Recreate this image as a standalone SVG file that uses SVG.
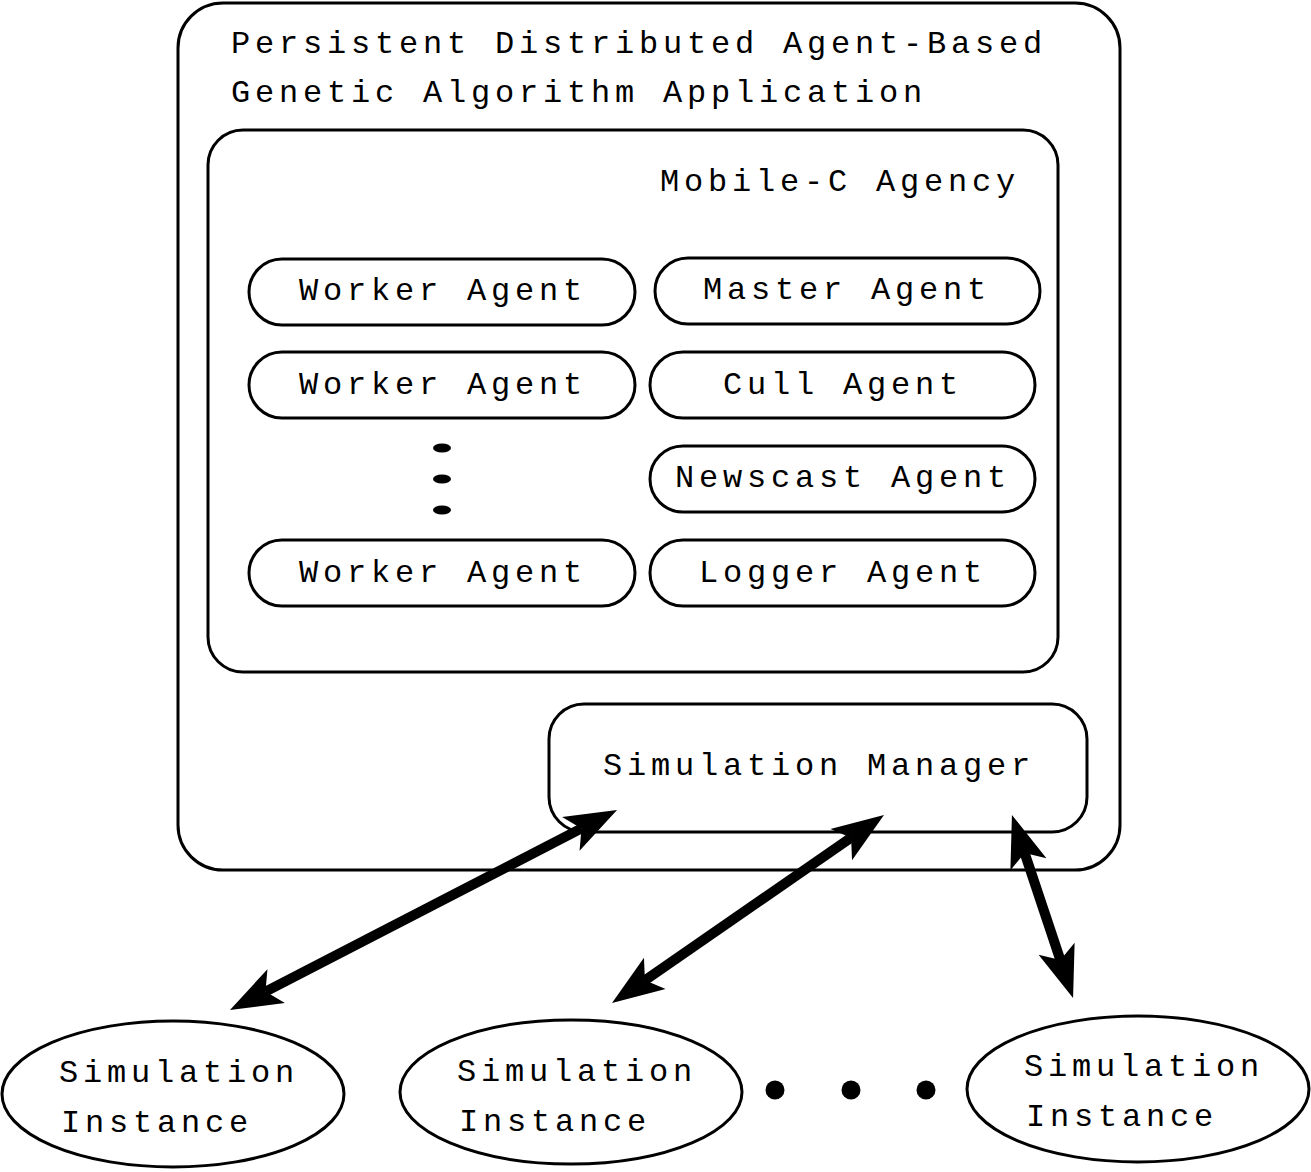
<svg xmlns="http://www.w3.org/2000/svg" width="1311" height="1172" viewBox="0 0 1311 1172">
<style>
.box{fill:none;stroke:#000;stroke-width:3}
.t{font-family:"Liberation Mono","Courier New",monospace;font-size:32px;letter-spacing:4.8px;fill:#000}
.arr{stroke:#000;stroke-width:10;fill:none;marker-start:url(#ah);marker-end:url(#ah)}
</style>
<defs>
<marker id="ah" markerUnits="userSpaceOnUse" viewBox="-15 -25 60 50" markerWidth="60" markerHeight="50" refX="0" refY="0" orient="auto-start-reverse" overflow="visible">
<path d="M40,0 L-12,-19 L0,0 L-12,19 Z" fill="#000"/>
</marker>
</defs>
<rect width="1311" height="1172" fill="#fff"/>
<g id="application">
<rect class="box" x="178" y="3" width="942" height="867" rx="45"/>
<text class="t" x="231" y="53">Persistent Distributed Agent-Based</text>
<text class="t" x="231" y="102">Genetic Algorithm Application</text>
</g>
<g id="agency">
<rect class="box" x="208" y="130" width="850" height="542" rx="35"/>
<text class="t" x="660" y="191">Mobile-C Agency</text>
</g>
<g id="worker1">
<rect class="box" x="249" y="259" width="386" height="66" rx="33"/>
<text class="t" x="299" y="300">Worker Agent</text>
</g>
<g id="master">
<rect class="box" x="655" y="258" width="385" height="66" rx="33"/>
<text class="t" x="703" y="299">Master Agent</text>
</g>
<g id="worker2">
<rect class="box" x="249" y="352" width="386" height="66" rx="33"/>
<text class="t" x="299" y="394">Worker Agent</text>
</g>
<g id="cull">
<rect class="box" x="650" y="352" width="385" height="66" rx="33"/>
<text class="t" x="723" y="394">Cull Agent</text>
</g>
<g id="newscast">
<rect class="box" x="650" y="446" width="385" height="66" rx="33"/>
<text class="t" x="675" y="487">Newscast Agent</text>
</g>
<g id="worker3">
<rect class="box" x="249" y="540" width="386" height="66" rx="33"/>
<text class="t" x="299" y="582">Worker Agent</text>
</g>
<g id="logger">
<rect class="box" x="650" y="540" width="385" height="66" rx="33"/>
<text class="t" x="699" y="582">Logger Agent</text>
</g>
<g id="worker-dots" fill="#000">
<ellipse cx="442" cy="448" rx="9" ry="4.5"/>
<ellipse cx="442" cy="479" rx="9" ry="4.5"/>
<ellipse cx="442" cy="510" rx="9" ry="4.5"/>
</g>
<g id="manager">
<rect class="box" x="549" y="704" width="538" height="128" rx="35"/>
<text class="t" x="603" y="775">Simulation Manager</text>
</g>
<g id="instance1">
<ellipse class="box" cx="173" cy="1094" rx="171" ry="73"/>
<text class="t" x="59" y="1082">Simulation</text>
<text class="t" x="61" y="1132">Instance</text>
</g>
<g id="instance2">
<ellipse class="box" cx="571" cy="1092" rx="171" ry="72"/>
<text class="t" x="457" y="1081">Simulation</text>
<text class="t" x="459" y="1131">Instance</text>
</g>
<g id="instance3">
<ellipse class="box" cx="1138" cy="1089" rx="171" ry="73"/>
<text class="t" x="1024" y="1076">Simulation</text>
<text class="t" x="1026" y="1126">Instance</text>
</g>
<g id="instance-dots" fill="#000">
<circle cx="775" cy="1090" r="9.5"/>
<circle cx="851" cy="1090" r="9.5"/>
<circle cx="926" cy="1090" r="9.5"/>
</g>
<g id="connectors">
<line class="arr" x1="265.5" y1="991.6" x2="581.5" y2="828.4"/>
<line class="arr" x1="644.9" y1="980.3" x2="851.1" y2="837.7"/>
<line class="arr" x1="1060.4" y1="960.1" x2="1024.6" y2="852.9"/>
</g>
</svg>
